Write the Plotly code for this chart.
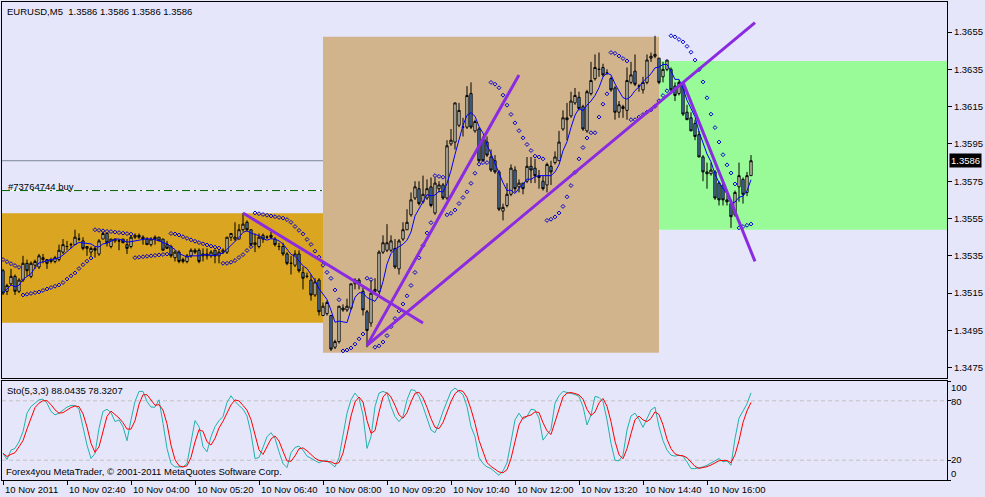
import plotly.graph_objects as go
import pandas as pd

# ---------------- data (EURUSD M5, 10 Nov 2011, bars from 01:20) ----------------
bar_open = [1.3527,1.3516,1.3520,1.3524,1.3516,1.3522,1.3531,1.3524,1.3530,1.3529,
            1.3533,1.3533,1.3532,1.3532,1.3533,1.3537,1.3540,1.3541,1.3541,1.3544,
            1.3543,1.3539,1.3537,1.3539,1.3536,1.3544,1.3547,1.3540,1.3543,1.3543,
            1.3544,1.3541,1.3540,1.3545,1.3546,1.3545,1.3544,1.3541,1.3545,1.3545,
            1.3544,1.3541,1.3540,1.3534,1.3537,1.3532,1.3532,1.3535,1.3538,1.3538,
            1.3535,1.3536,1.3535,1.3538,1.3535,1.3537,1.3537,1.3545,1.3544,1.3544,
            1.3549,1.3553,1.3549,1.3541,1.3540,1.3546,1.3545,1.3546,1.3544,1.3540,
            1.3540,1.3536,1.3531,1.3530,1.3536,1.3526,1.3524,1.3522,1.3514,1.3522,
            1.3503,1.3504,1.3503,1.3486,1.3489,1.3507,1.3506,1.3507,1.3520,1.3522,
            1.3516,1.3505,1.3499,1.3516,1.3516,1.3537,1.3538,1.3538,1.3539,1.3528,
            1.3544,1.3549,1.3557,1.3566,1.3571,1.3564,1.3566,1.3572,1.3558,1.3571,
            1.3573,1.3566,1.3595,1.3596,1.3605,1.3604,1.3604,1.3622,1.3602,1.3603,
            1.3597,1.3596,1.3588,1.3586,1.3580,1.3559,1.3562,1.3568,1.3581,1.3572,
            1.3574,1.3575,1.3583,1.3582,1.3578,1.3575,1.3573,1.3583,1.3585,1.3586,
            1.3603,1.3609,1.3610,1.3617,1.3620,1.3615,1.3602,1.3622,1.3630,1.3635,
            1.3636,1.3633,1.3630,1.3625,1.3612,1.3615,1.3613,1.3628,1.3634,1.3626,
            1.3624,1.3628,1.3641,1.3642,1.3641,1.3631,1.3635,1.3635,1.3626,1.3622,
            1.3627,1.3612,1.3609,1.3606,1.3600,1.3588,1.3580,1.3579,1.3580,1.3574,
            1.3573,1.3565,1.3563,1.3557,1.3572,1.3576,1.3569,1.3578]
bar_high = [1.3528,1.3520,1.3528,1.3525,1.3523,1.3535,1.3533,1.3532,1.3533,1.3536,
            1.3536,1.3533,1.3534,1.3535,1.3541,1.3544,1.3543,1.3542,1.3549,1.3547,
            1.3545,1.3540,1.3540,1.3540,1.3544,1.3548,1.3547,1.3544,1.3544,1.3544,
            1.3544,1.3544,1.3546,1.3547,1.3547,1.3546,1.3545,1.3545,1.3546,1.3545,
            1.3544,1.3543,1.3541,1.3538,1.3538,1.3534,1.3536,1.3539,1.3539,1.3539,
            1.3539,1.3539,1.3538,1.3538,1.3538,1.3539,1.3545,1.3547,1.3553,1.3552,
            1.3558,1.3554,1.3549,1.3547,1.3547,1.3547,1.3546,1.3548,1.3545,1.3542,
            1.3542,1.3537,1.3535,1.3538,1.3538,1.3529,1.3526,1.3525,1.3523,1.3523,
            1.3510,1.3511,1.3503,1.3490,1.3508,1.3509,1.3512,1.3520,1.3523,1.3523,
            1.3518,1.3506,1.3522,1.3523,1.3538,1.3546,1.3552,1.3546,1.3544,1.3544,
            1.3553,1.3560,1.3569,1.3575,1.3575,1.3578,1.3576,1.3577,1.3577,1.3575,
            1.3574,1.3597,1.3603,1.3617,1.3617,1.3609,1.3626,1.3628,1.3608,1.3604,
            1.3599,1.3599,1.3592,1.3589,1.3581,1.3563,1.3574,1.3584,1.3583,1.3576,
            1.3574,1.3588,1.3588,1.3587,1.3581,1.3578,1.3585,1.3586,1.3591,1.3602,
            1.3613,1.3617,1.3623,1.3625,1.3623,1.3616,1.3624,1.3639,1.3643,1.3644,
            1.3638,1.3635,1.3631,1.3626,1.3618,1.3616,1.3636,1.3639,1.3643,1.3627,
            1.3631,1.3643,1.3644,1.3653,1.3641,1.3639,1.3640,1.3636,1.3628,1.3629,
            1.3628,1.3616,1.3612,1.3608,1.3602,1.3589,1.3585,1.3585,1.3581,1.3575,
            1.3574,1.3568,1.3565,1.3570,1.3585,1.3577,1.3580,1.3589]
bar_low = [1.3514,1.3514,1.3519,1.3514,1.3515,1.3521,1.3524,1.3523,1.3528,1.3528,
           1.3531,1.3528,1.3531,1.3531,1.3532,1.3536,1.3538,1.3539,1.3541,1.3543,
           1.3538,1.3535,1.3535,1.3534,1.3535,1.3544,1.3540,1.3539,1.3542,1.3538,
           1.3542,1.3536,1.3539,1.3544,1.3544,1.3541,1.3541,1.3540,1.3541,1.3543,
           1.3538,1.3539,1.3534,1.3532,1.3531,1.3531,1.3531,1.3534,1.3536,1.3531,
           1.3532,1.3533,1.3534,1.3531,1.3531,1.3536,1.3536,1.3543,1.3543,1.3544,
           1.3548,1.3548,1.3540,1.3537,1.3539,1.3542,1.3544,1.3544,1.3540,1.3538,
           1.3535,1.3530,1.3525,1.3529,1.3526,1.3517,1.3523,1.3511,1.3513,1.3503,
           1.3503,1.3503,1.3484,1.3485,1.3488,1.3505,1.3505,1.3506,1.3517,1.3517,
           1.3503,1.3486,1.3497,1.3515,1.3515,1.3536,1.3537,1.3537,1.3528,1.3525,
           1.3543,1.3549,1.3556,1.3565,1.3562,1.3563,1.3565,1.3561,1.3557,1.3569,
           1.3565,1.3565,1.3594,1.3592,1.3604,1.3599,1.3603,1.3603,1.3601,1.3585,
           1.3586,1.3588,1.3580,1.3579,1.3559,1.3554,1.3561,1.3567,1.3569,1.3569,
           1.3568,1.3574,1.3574,1.3574,1.3571,1.3570,1.3569,1.3573,1.3584,1.3586,
           1.3602,1.3597,1.3609,1.3616,1.3613,1.3602,1.3601,1.3621,1.3629,1.3631,
           1.3631,1.3632,1.3623,1.3608,1.3609,1.3609,1.3608,1.3627,1.3626,1.3623,
           1.3622,1.3627,1.3639,1.3641,1.3627,1.3628,1.3634,1.3623,1.3618,1.3621,
           1.3610,1.3608,1.3602,1.3597,1.3588,1.3575,1.3571,1.3578,1.3565,1.3562,
           1.3562,1.3562,1.3550,1.3556,1.3564,1.3563,1.3567,1.3578]
bar_close = [1.3515,1.3519,1.3524,1.3516,1.3522,1.3531,1.3527,1.3531,1.3532,1.3535,
             1.3534,1.3531,1.3533,1.3534,1.3538,1.3541,1.3540,1.3541,1.3545,1.3544,
             1.3539,1.3540,1.3539,1.3538,1.3543,1.3547,1.3542,1.3544,1.3544,1.3543,
             1.3542,1.3539,1.3545,1.3546,1.3545,1.3544,1.3541,1.3544,1.3544,1.3543,
             1.3538,1.3539,1.3535,1.3537,1.3532,1.3533,1.3535,1.3538,1.3537,1.3532,
             1.3536,1.3535,1.3537,1.3535,1.3537,1.3538,1.3545,1.3547,1.3545,1.3549,
             1.3552,1.3549,1.3541,1.3542,1.3545,1.3544,1.3545,1.3545,1.3541,1.3540,
             1.3536,1.3531,1.3531,1.3536,1.3527,1.3523,1.3524,1.3514,1.3521,1.3505,
             1.3508,1.3510,1.3485,1.3489,1.3508,1.3506,1.3508,1.3520,1.3522,1.3520,
             1.3506,1.3495,1.3515,1.3517,1.3537,1.3542,1.3542,1.3543,1.3529,1.3543,
             1.3549,1.3553,1.3565,1.3572,1.3563,1.3568,1.3571,1.3562,1.3574,1.3573,
             1.3566,1.3594,1.3597,1.3617,1.3613,1.3604,1.3621,1.3604,1.3607,1.3586,
             1.3586,1.3589,1.3581,1.3580,1.3560,1.3561,1.3568,1.3582,1.3571,1.3574,
             1.3571,1.3583,1.3581,1.3578,1.3577,1.3571,1.3584,1.3580,1.3588,1.3596,
             1.3609,1.3608,1.3618,1.3621,1.3614,1.3603,1.3623,1.3629,1.3636,1.3635,
             1.3632,1.3633,1.3624,1.3612,1.3616,1.3614,1.3629,1.3632,1.3627,1.3626,
             1.3628,1.3640,1.3642,1.3643,1.3628,1.3635,1.3640,1.3624,1.3621,1.3628,
             1.3611,1.3608,1.3602,1.3599,1.3588,1.3580,1.3579,1.3581,1.3566,1.3565,
             1.3565,1.3564,1.3556,1.3569,1.3578,1.3568,1.3578,1.3586]

# Stochastic (5,3,3) main line
sto_main = [26.8,20.7,30.2,31.9,38.6,48.8,67.5,74.2,77.6,81.0,
            81.7,77.6,69.2,65.8,67.5,70.8,73.6,75.3,75.3,71.5,
            53.9,35.3,21.7,26.8,52.2,69.2,71.5,68.1,59.0,60.7,
            53.9,39.7,60.7,79.3,89.5,89.5,79.3,73.6,73.6,81.0,
            57.3,31.9,16.6,13.2,13.2,13.2,16.6,38.6,60.0,53.9,
            33.6,28.5,43.7,53.9,60.0,64.1,78.3,85.1,79.3,75.3,
            71.5,64.7,47.1,21.7,22.7,32.9,43.7,47.8,42.0,28.5,
            16.6,12.5,27.5,32.9,34.2,30.2,24.1,22.0,20.0,17.3,
            19.3,19.3,16.6,13.2,22.7,45.4,67.5,81.0,87.8,82.7,
            65.8,31.9,43.7,74.2,87.8,89.5,87.8,74.2,64.1,59.0,
            64.1,81.0,91.2,90.5,84.4,74.2,61.4,50.5,47.8,57.3,
            69.2,79.3,89.5,92.9,89.5,86.1,74.2,53.9,43.7,22.7,
            16.6,13.2,11.5,8.1,4.7,9.2,17.3,38.6,60.7,67.5,
            61.4,64.1,71.5,70.8,62.4,40.3,46.4,51.2,77.6,85.1,
            89.5,88.5,87.1,86.4,84.4,74.2,55.6,65.8,84.4,83.4,
            79.3,60.7,36.9,20.0,19.3,25.1,50.5,64.7,67.5,61.4,
            53.2,62.4,70.8,73.6,53.9,39.7,30.2,25.1,24.1,25.1,
            24.1,18.3,11.5,11.5,12.2,13.2,14.9,17.3,19.3,21.7,
            18.3,19.3,14.9,42.0,62.4,70.0,77.0,88.04]

time_label_bars = [0, 16, 32, 48, 64, 80, 96, 112, 128, 144, 160, 176]
time_labels = ["10 Nov 2011", "10 Nov 02:40", "10 Nov 04:00", "10 Nov 05:20", "10 Nov 06:40",
               "10 Nov 08:00", "10 Nov 09:20", "10 Nov 10:40", "10 Nov 12:00", "10 Nov 13:20",
               "10 Nov 14:40", "10 Nov 16:00"]
price_ticks = [1.3475, 1.3495, 1.3515, 1.3535, 1.3555, 1.3575, 1.3595, 1.3615, 1.3635, 1.3655]

# drawn objects
zone_start = [-2, 80, 164]
zone_end = [80, 164, 240]
zone_top = [1.35579, 1.36525, 1.36395]
zone_bottom = [1.34991, 1.34831, 1.35490]
zone_color = ["#DAA520", "#D2B48C", "#98FB98"]

trend_x0 = [60, 91, 91, 170]
trend_y0 = [1.3558, 1.3487, 1.3487, 1.3628]
trend_x1 = [105, 129, 188, 188]
trend_y1 = [1.3499, 1.3632, 1.3660, 1.3532]

bid_price = 1.3586
order_price = 1.3570
sar_start, sar_start_ep, sar_start_af = 1.3533, 1.3514, 0.06
ma_period = 5

# ---------------- indicators ----------------
bars = list(range(len(bar_close)))
ma = pd.Series(bar_close).rolling(ma_period, min_periods=1).mean().tolist()
sto_signal = pd.Series(sto_main).rolling(3, min_periods=1).mean().tolist()


def parabolic_sar(high, low, start, start_ep, start_af, step=0.02, max_af=0.2):
    sar = [start]
    rising = False
    ep = start_ep
    af = start_af
    for i in range(1, len(high)):
        s = sar[-1] + af * (ep - sar[-1])
        if rising:
            s = min(s, low[i - 1], low[max(i - 2, 0)])
            if low[i] < s:
                rising = False
                s = ep
                ep = low[i]
                af = step
            elif high[i] > ep:
                ep = high[i]
                af = min(af + step, max_af)
        else:
            s = max(s, high[i - 1], high[max(i - 2, 0)])
            if high[i] > s:
                rising = True
                s = ep
                ep = high[i]
                af = step
            elif low[i] < ep:
                ep = low[i]
                af = min(af + step, max_af)
        sar.append(s)
    return sar


sar = parabolic_sar(bar_high, bar_low, sar_start, sar_start_ep, sar_start_af)

# ---------------- figure ----------------
W, H = 985, 497
BG = "#E6E6FA"
FONT = "Liberation Sans"
x_dom = [2 / W, 947 / W]
main_dom = [1 - 378 / H, 1 - 2 / H]
sto_dom = [1 - 480 / H, 1 - 381 / H]
x_range = [-0.25, 236]

fig = go.Figure()

fig.add_trace(go.Candlestick(
    x=bars, open=bar_open, high=bar_high, low=bar_low, close=bar_close,
    increasing=dict(line=dict(color="black", width=1), fillcolor="#FAF6E4"),
    decreasing=dict(line=dict(color="black", width=1), fillcolor="#5A8ED0"),
    whiskerwidth=0, showlegend=False, hoverinfo="skip", xaxis="x", yaxis="y"))

fig.add_trace(go.Scatter(x=bars, y=ma, mode="lines", line=dict(color="#0000FF", width=1),
                         showlegend=False, hoverinfo="skip", xaxis="x", yaxis="y"))

fig.add_trace(go.Scatter(x=bars, y=sar, mode="markers",
                         marker=dict(symbol="diamond-open", size=3, color="#0000CD", line=dict(width=1)),
                         showlegend=False, hoverinfo="skip", xaxis="x", yaxis="y"))

for x0, y0, x1, y1 in zip(trend_x0, trend_y0, trend_x1, trend_y1):
    fig.add_trace(go.Scatter(x=[x0, x1], y=[y0, y1], mode="lines",
                             line=dict(color="#8A2BE2", width=3),
                             showlegend=False, hoverinfo="skip", xaxis="x", yaxis="y"))

fig.add_trace(go.Scatter(x=bars, y=sto_main, mode="lines", line=dict(color="#20B2AA", width=1),
                         showlegend=False, hoverinfo="skip", xaxis="x2", yaxis="y2"))
fig.add_trace(go.Scatter(x=bars, y=sto_signal, mode="lines", line=dict(color="#FF0000", width=1),
                         showlegend=False, hoverinfo="skip", xaxis="x2", yaxis="y2"))

shapes = []
for xs, xe, yt, yb, col in zip(zone_start, zone_end, zone_top, zone_bottom, zone_color):
    shapes.append(dict(type="rect", xref="x", yref="y", x0=xs, x1=xe, y0=yb, y1=yt,
                       fillcolor=col, line=dict(width=0), layer="below"))
shapes.append(dict(type="line", xref="x domain", yref="y", x0=0, x1=1, y0=bid_price, y1=bid_price,
                   line=dict(color="#7A8794", width=1), layer="below"))
shapes.append(dict(type="line", xref="x domain", yref="y", x0=0, x1=1, y0=order_price, y1=order_price,
                   line=dict(color="#FFFFFF", width=1), layer="below"))
shapes.append(dict(type="line", xref="x domain", yref="y", x0=0, x1=1, y0=order_price, y1=order_price,
                   line=dict(color="#006400", width=1, dash="8px,4px,2px,4px"), layer="below"))
for lvl in (20, 80):
    shapes.append(dict(type="line", xref="x2 domain", yref="y2", x0=0, x1=1, y0=lvl, y1=lvl,
                       line=dict(color="#C0C0C0", width=1, dash="4px,3px"), layer="below"))

ann = []
def txt(x, y, s, size=9.5, color="black", **kw):
    d = dict(xref="paper", yref="paper", x=x / W, y=1 - y / H, text=s, showarrow=False,
             xanchor="left", yanchor="middle", font=dict(family=FONT, size=size, color=color))
    d.update(kw)
    ann.append(d)

txt(5, 11, "EURUSD,M5\u00a0\u00a01.3586 1.3586 1.3586 1.3586")
txt(6, 186, "#73764744 buy")
txt(5, 390, "Sto(5,3,3) 88.0435 78.3207")
txt(4, 471.5, "Forex4you MetaTrader, \u00a9 2001-2011 MetaQuotes Software Corp.")
txt(949, 387.5, "100")
txt(949, 401, "80")
txt(949, 459.5, "20")
txt(949, 473.5, "0")
for b, lab in zip(time_label_bars, time_labels):
    ann.append(dict(xref="x2", yref="paper", x=b, y=1 - 489 / H, text=lab, showarrow=False,
                    xanchor="left", yanchor="middle", xshift=0,
                    font=dict(family=FONT, size=9.5, color="black")))
ann.append(dict(xref="paper", yref="y", x=949 / W, y=bid_price, text="1.3586", showarrow=False,
                xanchor="left", yanchor="middle", bgcolor="black", borderpad=1,
                font=dict(family=FONT, size=9.5, color="white")))

axis_common = dict(showgrid=False, zeroline=False, showline=True, mirror=True,
                   linecolor="black", linewidth=1)

fig.update_layout(
    width=W, height=H, autosize=False,
    margin=dict(l=0, r=0, t=0, b=0),
    paper_bgcolor=BG, plot_bgcolor=BG,
    font=dict(family=FONT, size=9.5, color="black"),
    showlegend=False, boxgap=0.2,
    shapes=shapes, annotations=ann,
    xaxis=dict(domain=x_dom, range=x_range, anchor="y", showticklabels=False, ticks="",
               rangeslider=dict(visible=False), **axis_common),
    yaxis=dict(domain=main_dom, range=[1.34695, 1.36711], anchor="x", side="right",
               tickvals=price_ticks, tickformat=".4f", ticks="outside", ticklen=4,
               tickcolor="black", tickfont=dict(family=FONT, size=9.5, color="black"),
               automargin=False, **axis_common),
    xaxis2=dict(domain=x_dom, range=x_range, anchor="y2", matches="x", showticklabels=False,
                tickvals=time_label_bars, ticks="outside", ticklen=4, tickcolor="black",
                **axis_common),
    yaxis2=dict(domain=sto_dom, range=[0, 100], anchor="x2", side="right",
                tickvals=[0, 20, 80, 100], ticks="outside", ticklen=3, tickcolor="black",
                showticklabels=False, automargin=False, **axis_common),
)

fig.write_html("out.html", config={"displayModeBar": False},
               post_script="document.body.style.margin='0';document.body.style.background='#E6E6FA';")
